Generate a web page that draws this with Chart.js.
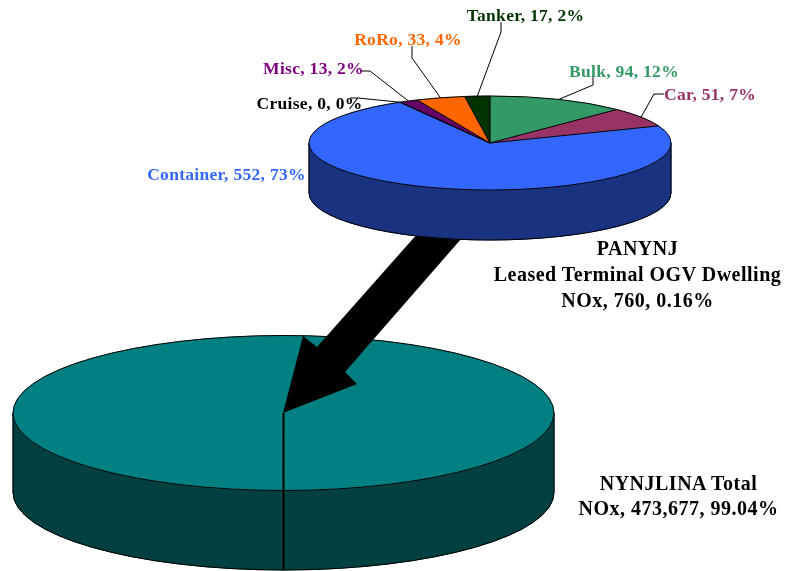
<!DOCTYPE html>
<html>
<head>
<meta charset="utf-8">
<title>PANYNJ OGV Dwelling NOx</title>
<script src="https://cdn.jsdelivr.net/npm/chart.js@4"></script>
<style>
  html, body { margin: 0; padding: 0; background: #fff; }
  #stage { position: relative; width: 788px; height: 571px; overflow: hidden; }
  #stage canvas { position: absolute; left: 0; top: 0; }
  .lbl {
    position: absolute; white-space: nowrap; font: bold 17.5px "Liberation Serif", serif;
    letter-spacing: 0.3px; line-height: 20px; transform: translate(-50%, -50%); text-align: center;
  }
  .note { color: #000; font-size: 20px; letter-spacing: 0.5px; line-height: 26px; }
  .note2 { line-height: 25px; }
</style>
</head>
<body>
<div id="stage">
  <canvas id="total-pie" width="788" height="571"></canvas>
  <canvas id="terminal-pie" width="788" height="571"></canvas>
</div>
<script>
// Terminal breakdown (upper pie)
const terminalCategories = ['Bulk', 'Car', 'Container', 'Cruise', 'Misc', 'RoRo', 'Tanker'];
const terminalValues = [94, 51, 552, 0, 13, 33, 17];
const terminalPercents = [12, 7, 73, 0, 2, 4, 2];
const terminalColors = ['#339966', '#993366', '#3366FF', '#000000', '#660066', '#FF6600', '#003300'];
const terminalSideColors = ['#1A4D33', '#4D1A33', '#1A3380', '#000000', '#330033', '#803300', '#001A00'];
const terminalTextColors = ['#339966', '#993366', '#3366FF', '#000000', '#800080', '#FF6600', '#003300'];

// Regional total (lower pie)
const totalCategories = ['NYNJLINA Total', 'PANYNJ Leased Terminal OGV Dwelling'];
const totalValues = [473677, 760];
const totalColors = ['#008080', '#008080'];
const totalSideColors = ['#004040', '#004040'];

// Label centres, and leader line bends going from the label to the slice
const terminalLabelPos = [[624, 70.5], [710, 93.5], [226.5, 173.5], [309.5, 102.5], [313.5, 67.5], [408, 38.5], [525.5, 14.5]];
const terminalLeaders = [
  [[593, 75], [593, 85]],
  [[664, 94], [654, 94]],
  null,
  [[350, 98], [358, 98]],
  [[360, 71], [370, 71]],
  [[412, 46], [412, 58]],
  [[501, 22], [501, 32]]
];

// Slices thinner than this get no outline of their own, the original shows one heavy line
const SLIVER = 0.02;

// Chart.js arcs are circular, so squash them into the tilted ellipse and add the rim by hand
function frontSpans(a, b) {
  const spans = [];
  for (const [lo, hi] of [[0, Math.PI], [2 * Math.PI, 3 * Math.PI]]) {
    const s = Math.max(a, lo), e = Math.min(b, hi);
    if (e > s) spans.push([s, e, e === hi]);
  }
  return spans;
}

const pie3d = {
  id: 'pie3d',
  beforeDatasetsDraw(chart, args, opts) {
    const ctx = chart.ctx;
    const arcs = chart.getDatasetMeta(0).data;
    const { cx, cy, rx, ry, depth, sideColors, arrow, edgeWidth } = opts;
    ctx.save();
    if (arrow) {
      ctx.fillStyle = '#000';
      ctx.beginPath();
      arrow.forEach(([x, y], i) => i ? ctx.lineTo(x, y) : ctx.moveTo(x, y));
      ctx.closePath();
      ctx.fill();
    }
    const side = (a, w) => {
      const x = cx + rx * Math.cos(a), y = cy + ry * Math.sin(a);
      ctx.strokeStyle = '#000';
      ctx.lineWidth = w;
      ctx.beginPath();
      ctx.moveTo(x, y);
      ctx.lineTo(x, y + depth);
      ctx.stroke();
    };
    // fills first, so a later slice can't paint over an earlier seam
    arcs.forEach((arc, i) => {
      for (const [s, e] of frontSpans(arc.startAngle, arc.endAngle)) {
        ctx.beginPath();
        ctx.ellipse(cx, cy, rx, ry, 0, s, e);
        ctx.lineTo(cx + rx * Math.cos(e), cy + ry * Math.sin(e) + depth);
        ctx.ellipse(cx, cy + depth, rx, ry, 0, e, s, true);
        ctx.closePath();
        ctx.fillStyle = sideColors[i];
        ctx.strokeStyle = sideColors[i];
        ctx.lineWidth = 1;
        ctx.fill();
        ctx.stroke();
      }
    });
    arcs.forEach(arc => {
      for (const [s, e, endsAtLimb] of frontSpans(arc.startAngle, arc.endAngle)) {
        ctx.strokeStyle = '#000';
        ctx.lineWidth = 1;
        ctx.beginPath();
        ctx.ellipse(cx, cy + depth, rx, ry, 0, s, e);
        ctx.stroke();
        if (arc.endAngle - arc.startAngle < SLIVER) continue;
        side(s, s === arc.startAngle ? edgeWidth : 1);
        if (endsAtLimb) side(e, 1);
      }
    });
    ctx.restore();

    const a0 = arcs[0];
    ctx.save();
    ctx.translate(cx, cy);
    ctx.scale(rx / a0.outerRadius, ry / a0.outerRadius);
    ctx.translate(-a0.x, -a0.y);
  },
  afterDatasetsDraw(chart, args, opts) {
    const ctx = chart.ctx;
    ctx.restore();
    const { cx, cy, rx, ry, leaders, edgeWidth } = opts;
    const arcs = chart.getDatasetMeta(0).data;
    ctx.save();
    ctx.strokeStyle = '#000';
    arcs.forEach(arc => {
      ctx.lineWidth = 1;
      ctx.beginPath();
      ctx.ellipse(cx, cy, rx, ry, 0, arc.startAngle, arc.endAngle);
      ctx.stroke();
      if (arc.endAngle - arc.startAngle < SLIVER && arc.endAngle > arc.startAngle) return;
      ctx.lineWidth = edgeWidth;
      ctx.beginPath();
      ctx.moveTo(cx, cy);
      ctx.lineTo(cx + rx * Math.cos(arc.startAngle), cy + ry * Math.sin(arc.startAngle));
      ctx.stroke();
    });
    // leader lines end at the middle of the slice rim
    if (leaders) {
      ctx.lineWidth = 1;
      arcs.forEach((arc, i) => {
        if (!leaders[i]) return;
        const mid = (arc.startAngle + arc.endAngle) / 2;
        ctx.beginPath();
        leaders[i].forEach(([x, y], k) => k ? ctx.lineTo(x, y) : ctx.moveTo(x, y));
        ctx.lineTo(cx + rx * Math.cos(mid), cy + ry * Math.sin(mid));
        ctx.stroke();
      });
    }
    ctx.restore();
  }
};

function makePie(canvasId, labels, values, colors, rotation, pieOpts) {
  return new Chart(document.getElementById(canvasId), {
    type: 'pie',
    data: { labels, datasets: [{ data: values, backgroundColor: colors, borderColor: colors, borderWidth: 1 }] },
    options: {
      responsive: false,
      animation: false,
      rotation,
      layout: { padding: 0 },
      plugins: { legend: { display: false }, tooltip: { enabled: false }, pie3d: pieOpts }
    },
    plugins: [pie3d]
  });
}

makePie('total-pie', totalCategories, totalValues, totalColors, 180, {
  cx: 283.5, cy: 413, rx: 270.5, ry: 77.5, depth: 79.5, sideColors: totalSideColors, edgeWidth: 2
});

makePie('terminal-pie', terminalCategories, terminalValues, terminalColors, 0, {
  cx: 490, cy: 143, rx: 181, ry: 47, depth: 50, sideColors: terminalSideColors, edgeWidth: 1,
  leaders: terminalLeaders,
  arrow: [[283, 413], [303, 336], [317, 347], [434, 215], [482, 215], [345, 372], [357, 384]]
});

function addLabel(html, x, y, color, cls) {
  const d = document.createElement('div');
  d.className = 'lbl' + (cls ? ' ' + cls : '');
  d.innerHTML = html;
  d.style.left = x + 'px';
  d.style.top = y + 'px';
  if (color) d.style.color = color;
  document.getElementById('stage').appendChild(d);
}

terminalCategories.forEach((c, i) => {
  const [x, y] = terminalLabelPos[i];
  addLabel(`${c}, ${terminalValues[i]}, ${terminalPercents[i]}%`, x, y, terminalTextColors[i]);
});
addLabel('PANYNJ<br>Leased Terminal OGV Dwelling<br>NOx, 760, 0.16%', 637.5, 274, '#000', 'note');
addLabel('NYNJLINA Total<br>NOx, 473,677, 99.04%', 678.5, 496, '#000', 'note note2');
</script>
</body>
</html>
